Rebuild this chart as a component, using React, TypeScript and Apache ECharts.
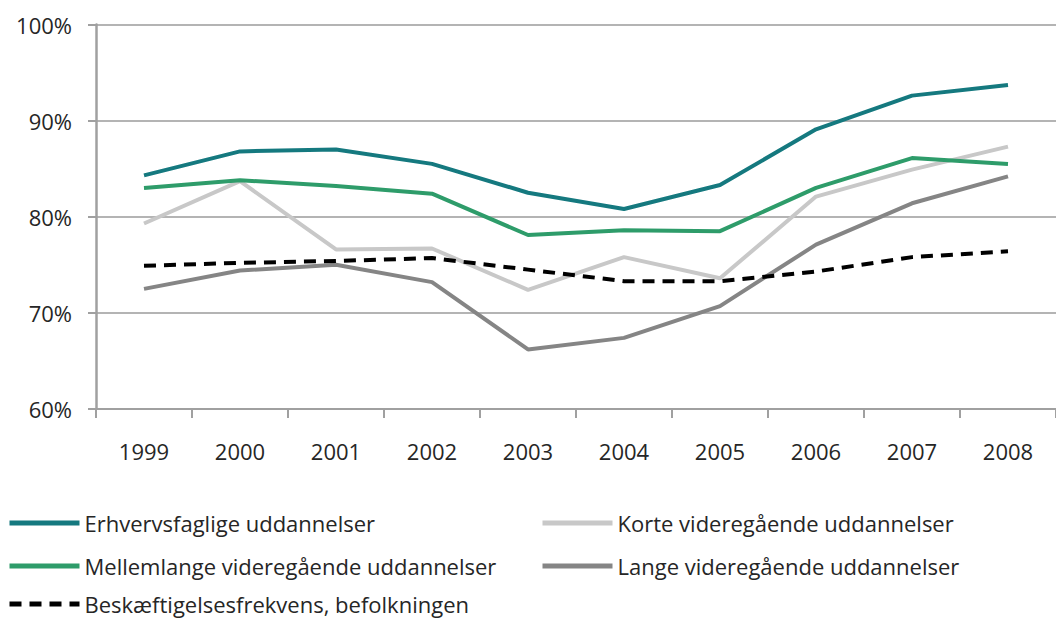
import React, { useEffect, useRef } from "react";
import * as echarts from "echarts";

const years = ["1999", "2000", "2001", "2002", "2003", "2004", "2005", "2006", "2007", "2008"];
const erhvervsfaglige = [84.3, 86.8, 87.0, 85.5, 82.5, 80.8, 83.3, 89.1, 92.6, 93.7];
const korte = [79.3, 83.7, 76.6, 76.7, 72.4, 75.8, 73.6, 82.1, 84.9, 87.3];
const mellemlange = [83.0, 83.8, 83.2, 82.4, 78.1, 78.6, 78.5, 83.0, 86.1, 85.5];
const lange = [72.5, 74.4, 75.0, 73.2, 66.2, 67.4, 70.7, 77.1, 81.4, 84.2];
const befolkningen = [74.9, 75.2, 75.4, 75.7, 74.5, 73.3, 73.3, 74.3, 75.8, 76.4];

const names = {
  erhv: "Erhvervsfaglige uddannelser",
  korte: "Korte videregående uddannelser",
  mellem: "Mellemlange videregående uddannelser",
  lange: "Lange videregående uddannelser",
  besk: "Beskæftigelsesfrekvens, befolkningen",
};

const FONT = "'Open Sans', sans-serif";

export default function App() {
  const ref = useRef<HTMLDivElement>(null);
  useEffect(() => {
    if (!ref.current) return;
    const chart = echarts.init(ref.current, null, { renderer: "svg" });
    const line = (name: string, data: number[], color: string, extra: any = {}) => ({
      name,
      type: "line",
      data,
      symbol: "none",
      showSymbol: false,
      lineStyle: { color, width: 4, ...extra },
      itemStyle: { color },
    });
    const legendText = { fontFamily: FONT, fontSize: 22, color: "#262626", lineHeight: 22 };
    const leg = (name: string, left: number, centerY: number) => ({
      orient: "horizontal",
      left,
      top: centerY - 11,
      itemWidth: 70,
      itemHeight: 10,
      itemGap: 0,
      padding: 0,
      textStyle: legendText,
      itemStyle: { opacity: 0 },
      lineStyle: { width: 5 },
      data: [name],
    });
    chart.setOption({
      animation: false,
      grid: { left: 96, right: 0, top: 24.5, bottom: 210, containLabel: false },
      xAxis: {
        type: "category",
        data: years,
        boundaryGap: true,
        axisLine: { lineStyle: { color: "#a0a0a0", width: 2 } },
        axisTick: { show: true, length: 9, lineStyle: { color: "#a0a0a0", width: 2 } },
        axisLabel: { fontFamily: FONT, fontSize: 22, color: "#262626", margin: 31 },
      },
      yAxis: {
        type: "value",
        min: 60,
        max: 100,
        interval: 10,
        axisLine: { show: true, lineStyle: { color: "#a0a0a0", width: 2.5 } },
        axisTick: { show: true, length: 8, lineStyle: { color: "#a0a0a0", width: 2 } },
        splitLine: { lineStyle: { color: "#b4b4b4", width: 2 } },
        axisLabel: { fontFamily: FONT, fontSize: 22, color: "#262626", margin: 24, formatter: "{value}%" },
      },
      legend: [
        leg(names.erhv, 7, 523),
        leg(names.korte, 540, 523),
        leg(names.mellem, 7, 566),
        leg(names.lange, 540, 566),
        leg(names.besk, 7, 604),
      ],
      series: [
        line(names.korte, korte, "#c8c8c8"),
        line(names.lange, lange, "#858585"),
        line(names.mellem, mellemlange, "#2e9c6a"),
        line(names.erhv, erhvervsfaglige, "#15797f"),
        line(names.besk, befolkningen, "#000000", { type: [12, 8], width: 4 }),
      ],
    });
    return () => chart.dispose();
  }, []);
  return <div ref={ref} style={{ width: 1056, height: 619, position: "absolute", left: 0, top: 0 }} />;
}
